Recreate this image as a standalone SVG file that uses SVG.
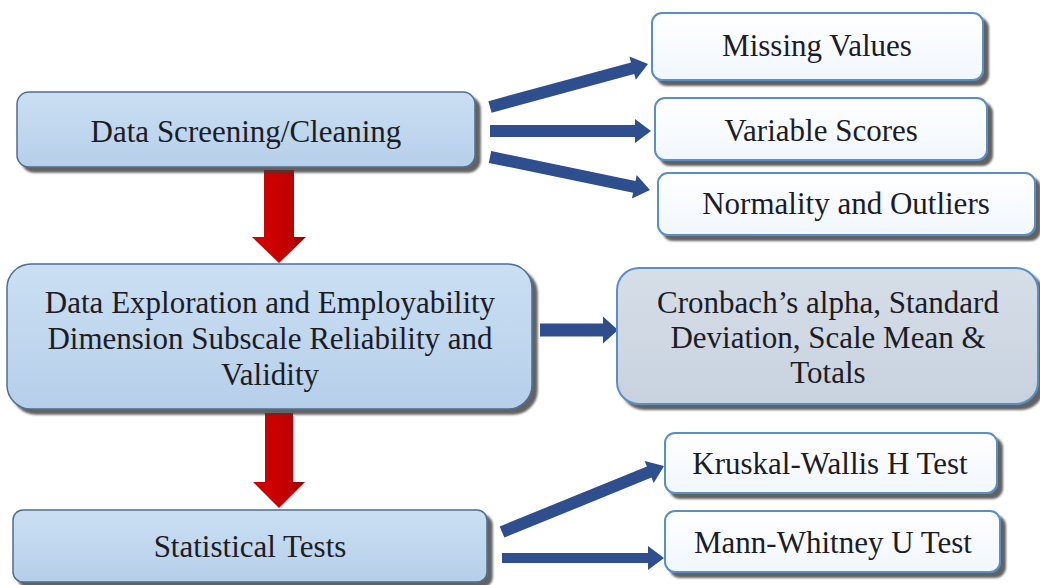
<svg xmlns="http://www.w3.org/2000/svg" width="1040" height="585" viewBox="0 0 1040 585">
  <defs>
    <filter id="shadow" x="-5%" y="-10%" width="115%" height="130%">
      <feDropShadow dx="5" dy="5" stdDeviation="1.3" flood-color="#3a3a3a" flood-opacity="0.8"/>
    </filter>
    <linearGradient id="gBlue" x1="0" y1="0" x2="0" y2="1">
      <stop offset="0" stop-color="#cadff3"/>
      <stop offset="1" stop-color="#b6cfe9"/>
    </linearGradient>
    <linearGradient id="gWhite" x1="0" y1="0" x2="0" y2="1">
      <stop offset="0" stop-color="#ffffff"/>
      <stop offset="1" stop-color="#f1f7fd"/>
    </linearGradient>
    <linearGradient id="gGrey" x1="0" y1="0" x2="0" y2="1">
      <stop offset="0" stop-color="#d6dee8"/>
      <stop offset="1" stop-color="#c8d2de"/>
    </linearGradient>
    <linearGradient id="gRed" x1="0" y1="0" x2="1" y2="0">
      <stop offset="0" stop-color="#d60000"/>
      <stop offset="0.7" stop-color="#c20000"/>
      <stop offset="1" stop-color="#900000"/>
    </linearGradient>
  </defs>
  <style>
    .main { fill: url(#gBlue); stroke: #4e6e93; stroke-width: 1.5; filter: url(#shadow); }
    .sub { fill: url(#gWhite); stroke: #5a8fc6; stroke-width: 2; filter: url(#shadow); }
    .grey { fill: url(#gGrey); stroke: #5a8fc6; stroke-width: 2; filter: url(#shadow); }
    .red { fill: url(#gRed); }
    .blue { fill: #2e4e8e; }
    .t { font-family: "Liberation Serif", "Noto Serif", "DejaVu Serif", FreeSerif, "Times New Roman", Times, serif; font-size: 31px; fill: #1c1c26; text-anchor: middle; }
  </style>
  <rect width="1040" height="585" fill="#ffffff"/>

  <g id="connectors">
    <polygon class="red" points="264,170 294,170 294,237 306,237 279,263 252,237 264,237"/>
    <polygon class="red" points="265,413 293,413 293,482 305,482 279,508 253,482 265,482"/>
    <polygon class="blue" points="488.4,101.2 631,62.4 629.4,56.6 648,64 635.8,79.8 634.2,74 491.6,112.8"/>
    <polygon class="blue" points="490,125 635,125 635,119 651,131 635,143 635,137 490,137"/>
    <polygon class="blue" points="491.2,151.1 635.5,180.9 636.7,175.1 650,190 631.9,198.5 633.1,192.7 488.8,162.9"/>
    <polygon class="blue" points="540,323.5 603,323.5 603,316.5 618,330 603,343.5 603,336.5 540,336.5"/>
    <polygon class="blue" points="499.7,526.4 646.9,466.4 644.7,460.9 664,466 653.7,483.1 651.5,477.6 504.3,537.6"/>
    <polygon class="blue" points="502,553 648,553 648,546 664,558 648,570 648,563 502,563"/>
  </g>

  <g id="node-screening">
    <rect class="main" x="17" y="92" width="458" height="75" rx="12"/>
    <text class="t" x="246" y="142">Data Screening/Cleaning</text>
  </g>
  <g id="node-exploration">
    <rect class="main" x="7" y="264" width="525" height="145" rx="24"/>
    <text class="t" x="270" y="313">Data Exploration and Employability</text>
    <text class="t" x="270" y="349">Dimension Subscale Reliability and</text>
    <text class="t" x="270" y="385">Validity</text>
  </g>
  <g id="node-tests">
    <rect class="main" x="13" y="510" width="474" height="72" rx="10"/>
    <text class="t" x="250" y="557">Statistical Tests</text>
  </g>
  <g id="node-missing">
    <rect class="sub" x="652" y="13" width="331" height="67" rx="10"/>
    <text class="t" x="817" y="56">Missing Values</text>
  </g>
  <g id="node-variable">
    <rect class="sub" x="655" y="98" width="332" height="62" rx="10"/>
    <text class="t" x="821" y="141">Variable Scores</text>
  </g>
  <g id="node-normality">
    <rect class="sub" x="658" y="173" width="377" height="62" rx="10"/>
    <text class="t" x="846" y="214">Normality and Outliers</text>
  </g>
  <g id="node-cronbach">
    <rect class="grey" x="617" y="268" width="421" height="136" rx="22"/>
    <text class="t" x="828" y="313">Cronbach’s alpha, Standard</text>
    <text class="t" x="828" y="348">Deviation, Scale Mean &amp;</text>
    <text class="t" x="828" y="383">Totals</text>
  </g>
  <g id="node-kruskal">
    <rect class="sub" x="665" y="433" width="332" height="60" rx="10"/>
    <text class="t" x="830" y="474">Kruskal-Wallis H Test</text>
  </g>
  <g id="node-mann">
    <rect class="sub" x="665" y="511" width="335" height="61" rx="10"/>
    <text class="t" x="833" y="553">Mann-Whitney U Test</text>
  </g>
</svg>
